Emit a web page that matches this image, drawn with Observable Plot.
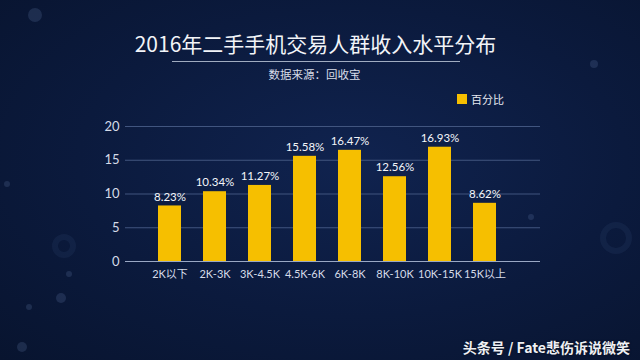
<!DOCTYPE html>
<html>
<head>
<meta charset="utf-8">
<script src="https://cdn.jsdelivr.net/npm/d3@7"></script>
<script src="https://cdn.jsdelivr.net/npm/@observablehq/plot@0.6"></script>
<style>
  html, body { margin: 0; padding: 0; }
  body { width: 640px; height: 360px; overflow: hidden; font-family: "Noto Sans CJK SC", "Noto Sans", sans-serif; }
  #wrap {
    position: relative; width: 640px; height: 360px; overflow: hidden;
    background: radial-gradient(ellipse at 55% 45%, #10234f 0%, #0b1a3d 55%, #08142f 100%);
  }
  .dot { position: absolute; border-radius: 50%; background: rgba(120,150,200,0.18); }
  .ring { position: absolute; border-radius: 50%; border: 6px solid rgba(90,120,170,0.10); }
  #title { position: absolute; left: 0; width: 631px; top: 28px; text-align: center; color: #f2f4f8; font-size: 21px; line-height: 30px; white-space: nowrap; font-weight: 400; }
  #rule { position: absolute; left: 172px; width: 288px; top: 61px; height: 1px; background: rgba(210,220,235,0.75); }
  #sub { position: absolute; left: 0; width: 629px; top: 65px; text-align: center; color: #d8dde8; font-size: 11.5px; line-height: 18px; }
  #legend { position: absolute; left: 457px; top: 91px; display: flex; align-items: center; color: #e6e9f0; font-size: 11px; }
  #legend .sw { width: 10px; height: 10px; background: #f6bf00; margin-right: 4px; }
  #chart { position: absolute; left: 0; top: 0; }
  #mark { position: absolute; right: 10px; top: 337px; color: #eef0f4; font-size: 14px; font-weight: bold; text-shadow: 0 0 2px rgba(0,0,0,0.6); white-space: nowrap; }
</style>
</head>
<body>
<div id="wrap">
  <div class="dot" style="left:28px;top:8px;width:14px;height:14px"></div>
  <div class="dot" style="left:4px;top:181px;width:6px;height:6px"></div>
  <div class="dot" style="left:66px;top:271px;width:6px;height:6px"></div>
  <div class="dot" style="left:56px;top:293px;width:10px;height:10px"></div>
  <div class="dot" style="left:26px;top:304px;width:6px;height:6px"></div>
  <div class="dot" style="left:17px;top:342px;width:10px;height:10px"></div>
  <div class="ring" style="left:52px;top:234px;width:12px;height:12px"></div>
  <div class="dot" style="left:528px;top:214px;width:6px;height:6px"></div>
  <div class="dot" style="left:590px;top:60px;width:8px;height:8px"></div>
  <div class="ring" style="left:600px;top:222px;width:20px;height:20px"></div>
  <div id="title">2016年二手手机交易人群收入水平分布</div>
  <div id="rule"></div>
  <div id="sub">数据来源：回收宝</div>
  <div id="legend"><div class="sw"></div><span>百分比</span></div>
  <div id="chart"></div>
  <div id="mark">头条号 / Fate悲伤诉说微笑</div>
</div>
<script>
const categories = ["2K以下", "2K-3K", "3K-4.5K", "4.5K-6K", "6K-8K", "8K-10K", "10K-15K", "15K以上"];
const values = [8.23, 10.34, 11.27, 15.58, 16.47, 12.56, 16.93, 8.62];
const yTicks = [0, 5, 10, 15, 20];

const data = categories.map((c, i) => ({category: c, value: values[i]}));

const chart = Plot.plot({
  width: 640,
  height: 360,
  marginTop: 126,
  marginBottom: 99,
  marginLeft: 125,
  marginRight: 100,
  style: {background: "transparent", color: "#d5dbe8", fontFamily: "Lato, 'Noto Sans CJK SC', sans-serif"},
  x: {domain: categories, insetLeft: 20, insetRight: 32, paddingInner: 0.49, paddingOuter: 0.245, label: null},
  y: {domain: [0, 20], label: null},
  marks: [
    Plot.ruleY(yTicks.filter(t => t > 0), {stroke: "#41557f", strokeWidth: 1}),
    Plot.ruleY([0], {stroke: "#9aa8c4", strokeWidth: 1}),
    Plot.barY(data, {x: "category", y: "value", fill: "#f6bf00"}),
    Plot.text(data, {x: "category", y: "value", text: d => d.value.toFixed(2) + "%", dy: -9, fill: "#f4f6fa", fontSize: 11.5}),
    Plot.axisX({tickSize: 0, tickPadding: 9, fontSize: 11, label: null}),
    Plot.axisY({ticks: yTicks, tickSize: 0, tickPadding: 6, fontSize: 13, label: null})
  ]
});
document.getElementById("chart").appendChild(chart);
</script>
</body>
</html>
